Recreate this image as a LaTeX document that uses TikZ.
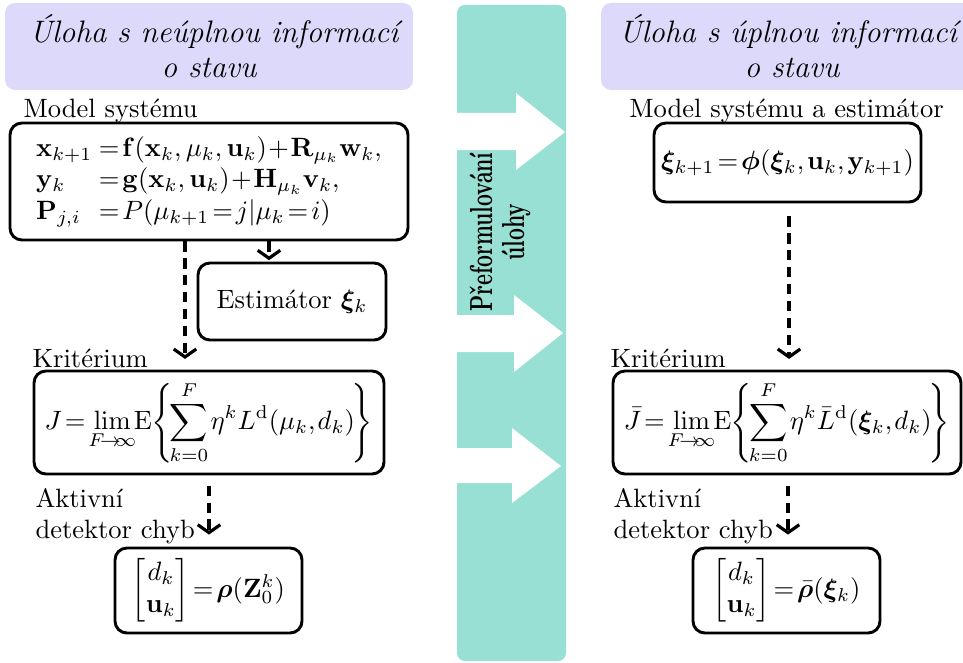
\documentclass[tikz,border=0pt]{standalone}
\usepackage{amsmath,bm}
\usetikzlibrary{arrows.meta}
\definecolor{titlefill}{RGB}{221,217,250}
\definecolor{bandfill}{RGB}{152,224,211}
\def\pxl{0.377pt}
\thickmuskip=2mu plus 1mu
\medmuskip=1mu
% tight limit subscript and operator spacing for the criteria
\newcommand\limF{\lim_{F\mkern-4mu\to\mkern-5mu\infty}\mkern-3mu}
\begin{document}
\begin{tikzpicture}[x=0.377pt,y=-0.377pt,
  box/.style={draw, line width=1.1pt, rounded corners=4.5pt, inner sep=0pt, align=center},
  lbl/.style={inner sep=0pt, anchor=base west},
  ttl/.style={inner sep=0pt, anchor=base, font=\fontsize{11.7}{14}\selectfont\itshape},
  flow/.style={line width=1.2pt, dash pattern=on 3.8pt off 2.6pt,
    -{Straight Barb[length=3pt,width=8.5pt]}},
  turn/.style={white}]
\useasboundingbox (0,0) rectangle (963,662);

% title panels
\fill[titlefill, rounded corners=3.8pt] (5,3) rectangle (413,90);
\fill[titlefill, rounded corners=3.8pt] (601,3) rectangle (995,90);
\node[ttl] (ttlL1) at (214,43) {Úloha s neúplnou informací};
\node[ttl] (ttlL2) at (209,78) {o stavu};
\node[ttl] (ttlR1) at (788,43) {Úloha s úplnou informací};
\node[ttl] (ttlR2) at (792,78) {o stavu};

% central band with the three arrows
\fill[bandfill, rounded corners=3pt] (457,5) rectangle (566,661);
\fill[turn] (457,113) -- (516,113) -- (516,93) -- (565,132) -- (516,170) -- (516,150) -- (457,150) -- cycle;
\fill[turn] (457,315) -- (514,315) -- (514,295) -- (563,333) -- (514,372) -- (514,352) -- (457,352) -- cycle;
\fill[turn] (457,448) -- (512,448) -- (512,428) -- (561,466) -- (512,503) -- (512,483) -- (457,483) -- cycle;
\node[rotate=90, inner sep=0pt, align=center, font=\bfseries] (band) at (500,232)
  {\scalebox{0.78}[1.2]{Přeformulování}\\[0pt]\scalebox{0.78}[1.2]{úlohy}};

% left column
\node[lbl] (lmod) at (23,118) {Model systému};
\node[box, minimum width=398*\pxl, minimum height=117*\pxl] (modL) at (209,181.5)
  {$\begin{array}{@{}l@{\hspace{2.5pt}}l@{}}
    \mathbf x_{k+1} & =\mathbf f(\mathbf x_k,\mu_k,\mathbf u_k)+\mathbf R_{\mu_k}\mathbf w_k,\\
    \mathbf y_k & =\mathbf g(\mathbf x_k,\mathbf u_k)+\mathbf H_{\mu_k}\mathbf v_k,\\
    \mathbf P_{j,i} & =P(\mu_{k+1}=j|\mu_k=i)
  \end{array}$};
\node[box, minimum width=188*\pxl, minimum height=77*\pxl] (estL) at (292,301.5)
  {Estimátor $\bm\xi_k$};
\node[lbl] (lkrit) at (32,367) {Kritérium};
\node[box, minimum width=350*\pxl, minimum height=103*\pxl] (critL) at (209,422.5)
  {\thinmuskip=1.5mu$\displaystyle J=\limF\mathrm E\mkern-2mu\left\{\mkern-2mu\sum_{k=0}^{F}\eta^k L^{\mathrm d}(\mu_k,d_k)\mkern-2mu\right\}$};
\node[lbl] (lakt) at (35,507) {Aktivní};
\node[lbl] (ldet) at (35,538) {detektor chyb};
\node[box, minimum width=187*\pxl, minimum height=85*\pxl] (detL) at (208.5,590.5)
  {$\begin{bmatrix} d_k\\ \mathbf u_k\end{bmatrix}=\bm\rho(\mathbf Z_0^k)$};

% right column
\node[inner sep=0pt, anchor=base] (rmod) at (786.5,118) {Model systému a estimátor};
\node[box, minimum width=267*\pxl, minimum height=79*\pxl] (modR) at (787.5,162.5)
  {\thinmuskip=2mu$\bm\xi_{k+1}=\bm\phi(\bm\xi_k,\mathbf u_k,\mathbf y_{k+1})$};
\node[lbl] (rkrit) at (610,367) {Kritérium};
\node[box, minimum width=348*\pxl, minimum height=103*\pxl] (critR) at (787,422.5)
  {\thinmuskip=1.5mu$\displaystyle \bar J=\limF\mathrm E\mkern-2mu\left\{\mkern-2mu\sum_{k=0}^{F}\eta^k \bar L^{\mathrm d}(\bm\xi_k,d_k)\mkern-2mu\right\}$};
\node[lbl] (rakt) at (613,507) {Aktivní};
\node[lbl] (rdet) at (613,538) {detektor chyb};
\node[box, minimum width=187*\pxl, minimum height=85*\pxl] (detR) at (786.5,590.5)
  {$\begin{bmatrix} d_k\\ \mathbf u_k\end{bmatrix}=\bar{\bm\rho}(\bm\xi_k)$};

% connectors
\coordinate (cL1) at (185,0);
\coordinate (cL2) at (269,0);
\coordinate (cL3) at (209,0);
\coordinate (cR1) at (789,0);
\coordinate (cR2) at (788,0);
\draw[flow, shorten >=4pt] (modL.south -| cL1) -- (critL.north -| cL1);
\draw[flow, shorten >=0.5pt] (modL.south -| cL2) -- (estL.north -| cL2);
\draw[flow, shorten <=3.8pt, shorten >=4.5pt] (critL.south -| cL3) -- (detL.north -| cL3);
\draw[flow, shorten <=4.9pt, shorten >=4pt] (modR.south -| cR1) -- (critR.north -| cR1);
\draw[flow, shorten <=3.8pt, shorten >=4.5pt] (critR.south -| cR2) -- (detR.north -| cR2);
\end{tikzpicture}
\end{document}
